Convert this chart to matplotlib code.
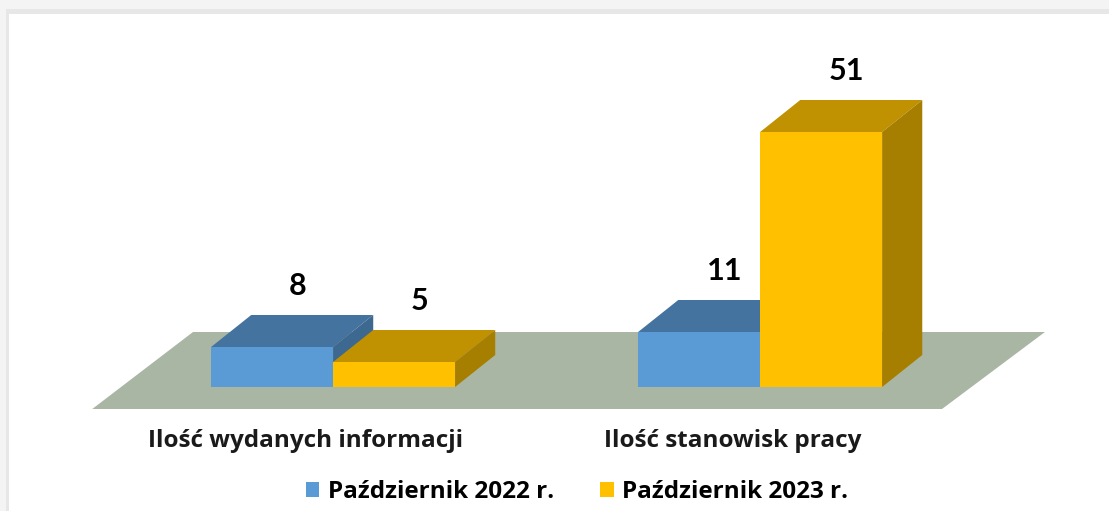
import matplotlib.pyplot as plt
from matplotlib.patches import Polygon, Rectangle, Patch

categories = ["Ilość wydanych informacji", "Ilość stanowisk pracy"]
series_names = ["Październik 2022 r.", "Październik 2023 r."]
values_2022 = [8, 11]
values_2023 = [5, 51]

FRONT = ["#5B9BD5", "#FFC000"]
TOP = ["#44739F", "#C09100"]
SIDE = ["#3D6890", "#A67F00"]
FLOOR = "#AAB6A4"

BAR_W = 0.2857
DX, DY = 0.094, 6.4          # fake depth offset of the bars (data units)
TEXT_FONT = "Open Sans"
NUM_FONT = "Lato"

fig = plt.figure(figsize=(11.09, 5.11), dpi=100)
fig.patch.set_facecolor("#f4f4f4")
# card shadow + white card
fig.add_artist(Rectangle((6 / 1109, 0), 1, (511 - 9) / 511, transform=fig.transFigure,
                         facecolor="#e7e7e7", edgecolor="none", zorder=-2))
fig.add_artist(Rectangle((9 / 1109, 0), 1, (511 - 14) / 511, transform=fig.transFigure,
                         facecolor="white", edgecolor="none", zorder=-1))

ax = fig.add_axes([0, 0, 1, 1])
ax.set_xlim(-0.780, 1.817)
ax.set_ylim(-24.8, 77.4)
ax.axis("off")

# floor
ax.add_patch(Polygon([(-0.564, -4.4), (1.426, -4.4), (1.667, 11.0), (-0.328, 11.0)],
                     closed=True, facecolor=FLOOR, edgecolor="none", zorder=1))

series = [values_2022, values_2023]
z = 2
for i in range(len(categories)):
    for s, vals in enumerate(series):
        x0 = i - BAR_W + s * BAR_W
        v = vals[i]
        ax.bar(x0, v, width=BAR_W, align="edge", color=FRONT[s], zorder=z)
        ax.add_patch(Polygon([(x0, v), (x0 + BAR_W, v), (x0 + BAR_W + DX, v + DY), (x0 + DX, v + DY)],
                             facecolor=TOP[s], edgecolor="none", zorder=z))
        ax.add_patch(Polygon([(x0 + BAR_W, 0), (x0 + BAR_W + DX, DY), (x0 + BAR_W + DX, v + DY), (x0 + BAR_W, v)],
                             facecolor=SIDE[s], edgecolor="none", zorder=z))
        ax.text(x0 + BAR_W / 2 + 0.06, v + 12.3, str(v), ha="center", va="center",
                fontsize=22, fontweight="bold", family=NUM_FONT, zorder=10)
        z += 1

for i, cat in enumerate(categories):
    ax.text(i - 0.065, -10.8, cat, ha="center", va="center", fontsize=17.5,
            fontweight="bold", family=TEXT_FONT, color="#1a1a1a")

handles = [Patch(facecolor=FRONT[0]), Patch(facecolor=FRONT[1])]
fig.legend(handles, series_names, loc="center", bbox_to_anchor=(577 / 1109, (511 - 492) / 511),
           ncol=2, frameon=False, handlelength=0.55, handleheight=0.55, handletextpad=0.35,
           columnspacing=1.9, prop={"family": TEXT_FONT, "weight": "bold", "size": 17.5})

fig.savefig("out.png", dpi=100)
